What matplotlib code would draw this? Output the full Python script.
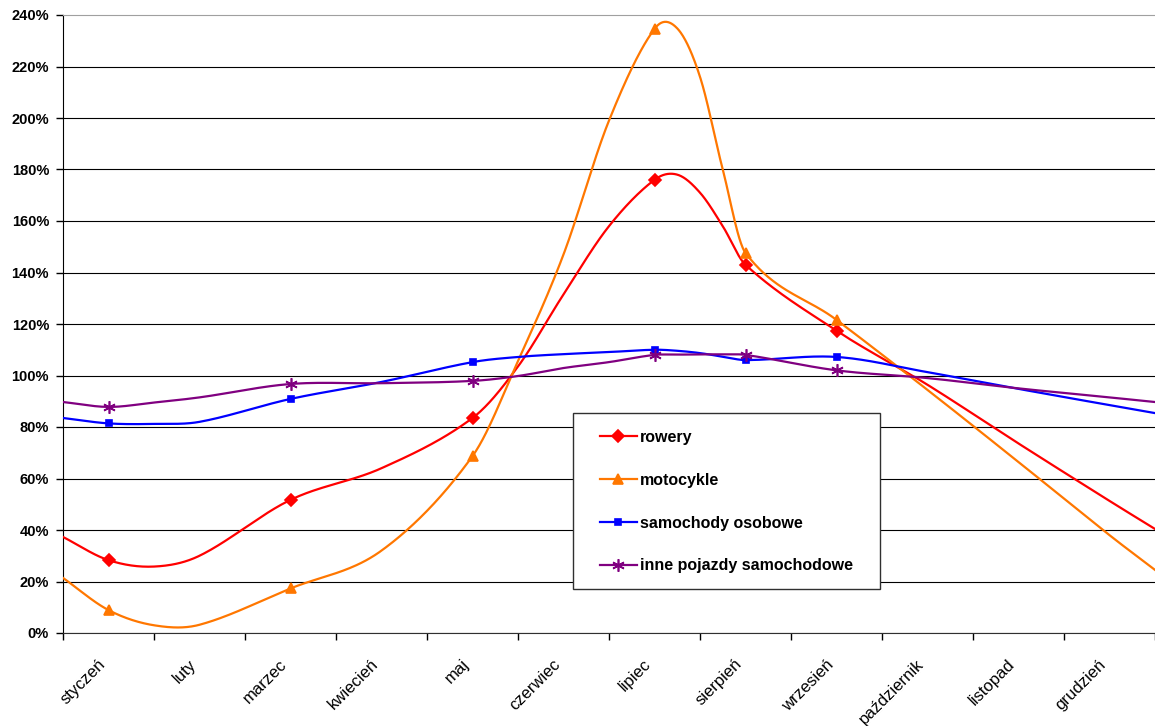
import numpy as np
import matplotlib
matplotlib.use("Agg")
import matplotlib.pyplot as plt
from matplotlib.lines import Line2D
from matplotlib.patches import Rectangle
from matplotlib.ticker import PercentFormatter
from matplotlib.transforms import ScaledTranslation

plt.rcParams['font.family'] = ['Liberation Sans', 'DejaVu Sans']

months = ["styczeń", "luty", "marzec", "kwiecień", "maj", "czerwiec",
          "lipiec", "sierpień", "wrzesień", "październik", "listopad", "grudzień"]

# knot positions on the month axis (1 = styczeń), 0.5 / 12.5 are the plot edges
knots = [0.5, 1, 1.5, 2, 3, 4, 5, 5.5, 6, 6.5, 7, 7.25, 7.5, 7.75, 8, 9, 10, 11, 12, 12.5]
marked = [1, 3, 5, 7, 8, 9]   # months that carry a marker

rowery = [37.3, 28.3, 25.8, 30, 51.7, 64, 83.5, 103.5, 131.5, 158, 176, 178, 171, 158,
          143, 117.4, 96.4, 73.6, 51.3, 40.4]
motocykle = [21.4, 8.9, 3.0, 3.2, 17.3, 32, 68.7, 105.6, 147, 199, 234.6, 234.8, 216, 180,
             147.6, 121.6, 94.4, 66.4, 38, 24.5]
samochody = [83.5, 81.4, 81.2, 82, 90.9, 97.5, 105.2, 107.2, 108.3, 109.1, 110, 109.6, 108.7,
             107.3, 106, 107.2, 101.3, 94.8, 88.5, 85.4]
inne = [89.7, 87.8, 89.5, 91.5, 96.7, 97, 97.9, 99.8, 102.9, 105.2, 108, 108.1, 108.2, 108.2,
        108, 102, 99, 95, 91.5, 89.7]

series = [
    ("rowery", rowery, "#FF0000", "D", 6),
    ("motocykle", motocykle, "#FF7700", "^", 7.5),
    ("samochody osobowe", samochody, "#0000FF", "s", 5),
    ("inne pojazdy samochodowe", inne, "#800080", (6, 2, 0), 9),
]


def smooth(xk, yk, n=40):
    # cubic hermite through the knots, excel-like smoothed line
    xk = np.asarray(xk, float)
    yk = np.asarray(yk, float)
    m = np.zeros_like(yk)
    m[1:-1] = (yk[2:] - yk[:-2]) / (xk[2:] - xk[:-2])
    m[0] = (yk[1] - yk[0]) / (xk[1] - xk[0])
    m[-1] = (yk[-1] - yk[-2]) / (xk[-1] - xk[-2])
    xs, ys = [], []
    for i in range(len(xk) - 1):
        h = xk[i + 1] - xk[i]
        t = np.linspace(0, 1, n, endpoint=False)
        h00 = 2 * t**3 - 3 * t**2 + 1
        h10 = t**3 - 2 * t**2 + t
        h01 = -2 * t**3 + 3 * t**2
        h11 = t**3 - t**2
        xs.append(xk[i] + t * h)
        ys.append(h00 * yk[i] + h10 * h * m[i] + h01 * yk[i + 1] + h11 * h * m[i + 1])
    xs.append([xk[-1]])
    ys.append([yk[-1]])
    return np.concatenate(xs), np.concatenate(ys)


fig = plt.figure(figsize=(11.55, 7.26), dpi=100)
ax = fig.add_axes([63 / 1155, 93 / 726, 1092 / 1155, 618 / 726])

handles = []
idx = [knots.index(k) for k in marked]
for name, vals, col, mk, ms in series:
    xs, ys = smooth(knots, vals)
    ax.plot(xs, ys, color=col, lw=1.6, zorder=3)
    ax.plot([knots[i] for i in idx], [vals[i] for i in idx], ls="none", marker=mk,
            color=col, ms=ms, mew=1.2, zorder=4)
    handles.append(Line2D([], [], color=col, lw=1.6, marker=mk, ms=ms, mew=1.2, label=name))

ax.set_xlim(0.5, 12.5)
ax.set_ylim(0, 240)

ax.set_yticks(range(0, 241, 20))
ax.yaxis.set_major_formatter(PercentFormatter(decimals=0))
ax.grid(True, axis="y", color="black", lw=0.8)
ax.get_ygridlines()[-1].set_visible(False)
ax.set_axisbelow(True)
ax.tick_params(axis="y", direction="out", length=5, width=1, pad=5, labelsize=10.5)
for lab in ax.get_yticklabels():
    lab.set_fontweight("bold")

ax.set_xticks(range(1, 13))
ax.set_xticklabels(months, rotation=45, ha="right", rotation_mode="anchor", fontsize=12)
ax.set_xticks(np.arange(0.5, 13, 1), minor=True)
ax.tick_params(axis="x", which="major", length=0, pad=17)
ax.tick_params(axis="x", which="minor", direction="out", length=5, width=1)
shift = ScaledTranslation(-11 / 100, 0, fig.dpi_scale_trans)
for lab in ax.get_xticklabels():
    lab.set_transform(lab.get_transform() + shift)

ax.spines["right"].set_visible(False)
ax.spines["top"].set_color("#A0A0A0")
ax.spines["left"].set_color("black")
ax.spines["bottom"].set_color("#303030")

# legend box
box = Rectangle((573 / 1155, 1 - 589 / 726), 307 / 1155, 176 / 726, transform=fig.transFigure,
                facecolor="white", edgecolor="#303030", lw=1, zorder=5)
ax.add_artist(box)
leg = ax.legend(handles=handles, loc="upper left", bbox_to_anchor=(600 / 1155, 1 - 430 / 726),
                bbox_transform=fig.transFigure, frameon=False, borderaxespad=0, borderpad=0,
                handlelength=2.3, handletextpad=0.2, labelspacing=1.74,
                prop={"weight": "bold", "size": 11.5})
leg.set_zorder(6)

fig.savefig("out.png", dpi=100)
